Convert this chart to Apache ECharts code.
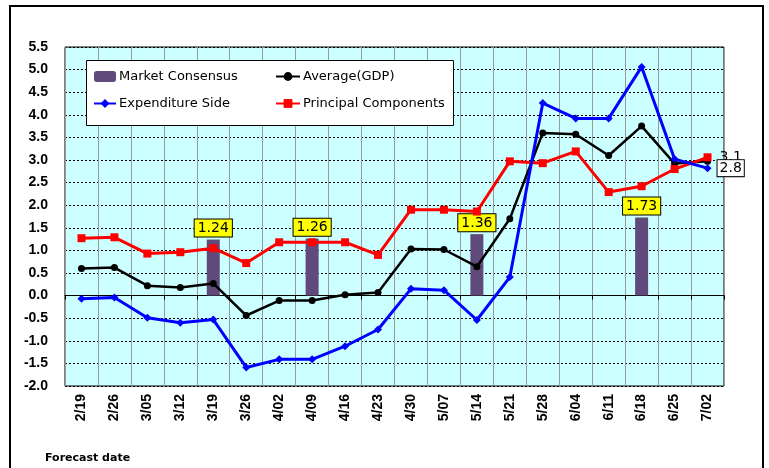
<!DOCTYPE html>
<html><head><meta charset="utf-8">
<script src="https://cdn.jsdelivr.net/npm/echarts@6/dist/echarts.min.js"></script>
<style>html,body{margin:0;padding:0;background:#fff}#c{width:769px;height:468px}</style>
</head><body><div id="c"></div>
<script>
var categories = ['2/19','2/26','3/05','3/12','3/19','3/26','4/02','4/09','4/16','4/23','4/30','5/07','5/14','5/21','5/28','6/04','6/11','6/18','6/25','7/02'];
var marketConsensus = [null,null,null,null,1.24,null,null,1.26,null,null,null,null,1.36,null,null,null,null,1.73,null,null];
var averageGDP = [0.60,0.62,0.22,0.18,0.27,-0.44,-0.11,-0.11,0.02,0.07,1.03,1.02,0.64,1.70,3.60,3.57,3.10,3.75,2.92,2.97];
var expenditureSide = [-0.07,-0.04,-0.49,-0.60,-0.53,-1.59,-1.41,-1.41,-1.12,-0.75,0.15,0.12,-0.54,0.41,4.26,3.92,3.92,5.06,3.02,2.82];
var principalComponents = [1.27,1.29,0.93,0.96,1.05,0.72,1.18,1.18,1.18,0.90,1.90,1.90,1.86,2.97,2.93,3.19,2.29,2.42,2.80,3.06];
var yTicks = {min:-2, max:5.5, step:0.5};

var chart = echarts.init(document.getElementById('c'), null, {renderer:'canvas'});
var lastIdx = categories.length - 1;
function endLabel(boxed){
  return {show:true, position:'right', distance:6, fontSize:14, fontFamily:'DejaVu Sans', color:'#000',
    backgroundColor: boxed ? '#fff' : 'transparent', borderColor: boxed ? '#000' : 'transparent', borderWidth: boxed?1:0,
    padding:[1,2], formatter:function(p){return p.value.toFixed(1);}};
}
function withEnd(arr, boxed){
  return arr.map(function(v,i){ return i===lastIdx ? {value:v, label:endLabel(boxed)} : v; });
}
var option = {
  animation:false,
  backgroundColor:'#fff',
  title:{text:'Forecast date', left:40, top:448, textStyle:{fontSize:11, fontWeight:'bold', fontFamily:'DejaVu Sans', color:'#000'}},
  graphic:[
    {type:'rect', shape:{x:10,y:6,width:753,height:480}, style:{fill:'none', stroke:'#000', lineWidth:2}, z:100, silent:true},
    {type:'rect', shape:{x:86.5,y:60.5,width:367,height:65}, style:{fill:'#fff', stroke:'#000', lineWidth:1}, z:8, silent:true}
  ],
  legend:[
    {left:88, top:65, orient:'vertical', itemGap:14, itemWidth:22, itemHeight:11, z:10,
     textStyle:{fontSize:13, fontFamily:'DejaVu Sans', color:'#000', padding:[0,0,0,-2]},
     data:['Market Consensus','Expenditure Side']},
    {left:270, top:65, orient:'vertical', itemGap:14, itemWidth:24, itemHeight:11, z:10,
     textStyle:{fontSize:13, fontFamily:'DejaVu Sans', color:'#000', padding:[0,0,0,-2]},
     data:['Average(GDP)','Principal Components']}
  ],
  grid:{left:65, right:45, top:47, bottom:82, show:true, backgroundColor:'#ccffff', borderColor:'#000', borderWidth:1},
  xAxis:[
    {type:'category', data:categories, boundaryGap:true, axisLine:{show:false, onZero:false}, axisTick:{show:false},
     splitLine:{show:true, interval:0, lineStyle:{color:'#999', width:1}},
     axisLabel:{interval:0, rotate:90, margin:8, fontSize:14, fontWeight:'bold', fontFamily:'Liberation Sans', color:'#000'}},
    {type:'category', data:categories, boundaryGap:true, position:'bottom',
     axisLine:{show:true, onZero:true, lineStyle:{color:'#000', width:1}},
     axisTick:{show:true, interval:0, length:4, lineStyle:{color:'#000'}},
     axisLabel:{show:false}, splitLine:{show:false}}
  ],
  yAxis:{type:'value', min:yTicks.min, max:yTicks.max, interval:yTicks.step,
    axisLine:{show:false}, axisTick:{show:false},
    splitLine:{show:true, lineStyle:{color:'#000', type:[2,2], width:1}},
    axisLabel:{margin:17, fontSize:14, fontWeight:'bold', fontFamily:'Liberation Sans', color:'#000',
      formatter:function(v){return v.toFixed(1);}}},
  series:[
    {name:'Market Consensus', type:'bar', data:marketConsensus, barWidth:13, itemStyle:{color:'#604a7b'}, z:2,
     label:{show:true, position:'top', distance:3, fontSize:14, fontFamily:'DejaVu Sans', color:'#000',
       backgroundColor:'#ffff00', borderColor:'#000', borderWidth:1, padding:[2,3,1,3],
       formatter:function(p){return p.value==null?'':p.value.toFixed(2);}}},
    {name:'Average(GDP)', type:'line', data:averageGDP, symbol:'circle', symbolSize:7,
     lineStyle:{color:'#000', width:2.5}, itemStyle:{color:'#000'}, z:3},
    {name:'Expenditure Side', type:'line', data:withEnd(expenditureSide, true), symbol:'diamond', symbolSize:8,
     lineStyle:{color:'#0000ff', width:3}, itemStyle:{color:'#0000ff'}, z:4},
    {name:'Principal Components', type:'line', data:withEnd(principalComponents, false), symbol:'rect', symbolSize:8,
     lineStyle:{color:'#ff0000', width:3}, itemStyle:{color:'#ff0000'}, z:3}
  ]
};
chart.setOption(option);
</script></body></html>
